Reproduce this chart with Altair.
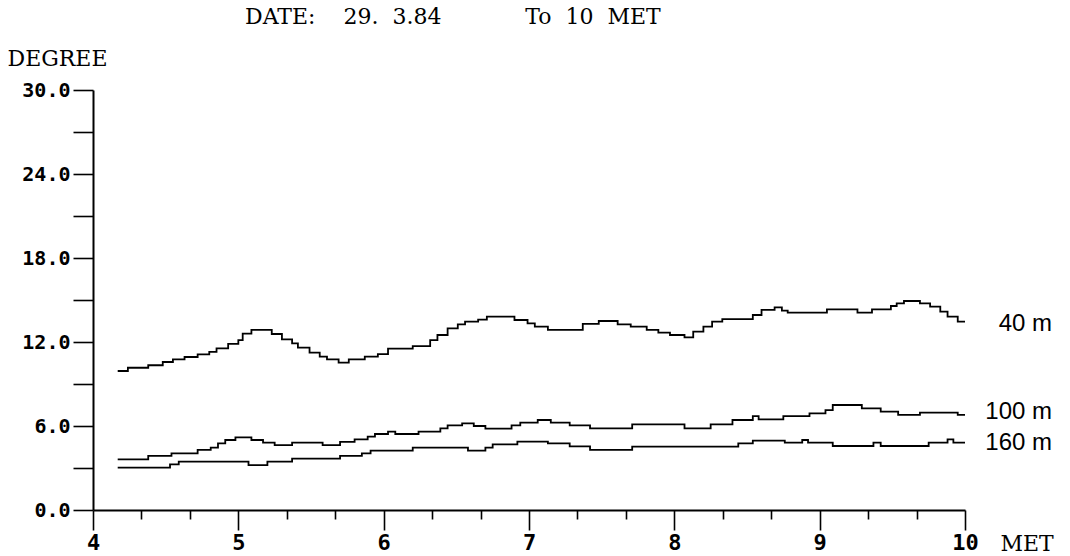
import altair as alt
import pandas as pd

# ---- data (time in hours MET, temperature in degrees) ----
t40 = [4.17, 4.24, 4.38, 4.48, 4.55, 4.63, 4.72, 4.80, 4.85, 4.93, 5.00, 5.03, 5.09,
       5.23, 5.30, 5.37, 5.41, 5.49, 5.56, 5.61, 5.69, 5.76, 5.87, 5.96, 6.03, 6.20,
       6.32, 6.37, 6.44, 6.51, 6.56, 6.65, 6.71, 6.90, 6.99, 7.04, 7.13, 7.37, 7.48,
       7.61, 7.70, 7.81, 7.89, 7.97, 8.07, 8.13, 8.20, 8.26, 8.33, 8.54, 8.60, 8.69,
       8.74, 8.78, 9.05, 9.26, 9.36, 9.49, 9.53, 9.58, 9.69, 9.76, 9.83, 9.88, 9.95,
       10.0]
v40 = [9.93, 10.16, 10.34, 10.57, 10.76, 10.93, 11.12, 11.30, 11.55, 11.86, 12.14, 12.60,
       12.86, 12.57, 12.19, 11.90, 11.60, 11.24, 10.95, 10.76, 10.52, 10.76, 10.95, 11.14,
       11.52, 11.71, 12.14, 12.50, 12.98, 13.26, 13.45, 13.60, 13.81, 13.57, 13.33, 13.10,
       12.86, 13.29, 13.50, 13.26, 13.10, 12.86, 12.67, 12.50, 12.33, 12.74, 13.10, 13.45,
       13.64, 13.93, 14.29, 14.48, 14.24, 14.10, 14.33, 14.10, 14.33, 14.57, 14.76, 14.93,
       14.76, 14.52, 14.17, 13.81, 13.45, 13.45]

t100 = [4.17, 4.38, 4.54, 4.72, 4.81, 4.86, 4.91, 4.98, 5.09, 5.17, 5.25, 5.37, 5.58,
        5.70, 5.80, 5.89, 5.94, 6.03, 6.08, 6.24, 6.39, 6.44, 6.54, 6.62, 6.70, 6.88,
        6.94, 7.06, 7.15, 7.28, 7.42, 7.71, 8.07, 8.25, 8.40, 8.54, 8.58, 8.75, 8.93,
        9.04, 9.09, 9.29, 9.42, 9.54, 9.69, 9.95, 10.0]
v100 = [3.62, 3.86, 4.05, 4.29, 4.45, 4.76, 5.00, 5.19, 5.00, 4.81, 4.64, 4.81, 4.64,
        4.86, 5.05, 5.24, 5.43, 5.60, 5.43, 5.60, 5.83, 6.05, 6.19, 6.00, 5.81, 6.05,
        6.24, 6.43, 6.24, 6.05, 5.83, 6.12, 5.83, 6.12, 6.43, 6.71, 6.48, 6.71, 6.90,
        7.14, 7.50, 7.26, 7.02, 6.79, 6.95, 6.79, 6.79]

t160 = [4.17, 4.53, 4.59, 5.07, 5.20, 5.37, 5.70, 5.85, 5.91, 6.20, 6.58, 6.70, 6.75,
        6.92, 7.13, 7.28, 7.42, 7.71, 8.44, 8.54, 8.76, 8.88, 8.92, 9.09, 9.37, 9.42,
        9.75, 9.88, 9.92, 10.0]
v160 = [3.02, 3.26, 3.45, 3.21, 3.45, 3.67, 3.86, 4.05, 4.24, 4.45, 4.24, 4.45, 4.69,
        4.88, 4.76, 4.55, 4.29, 4.52, 4.76, 4.95, 4.81, 5.00, 4.81, 4.57, 4.81, 4.57,
        4.81, 5.05, 4.81, 4.81]

series_names = ["40 m", "100 m", "160 m"]
label_t = [10.0, 10.0, 10.0]
label_v = [13.3, 7.0, 4.8]

x_tick_values = [4 + k / 6 for k in range(37)]
y_tick_values = [3 * k for k in range(11)]

NB = "\u00a0"
title_text = ("DATE:" + NB * 4 + "29." + NB * 2 + "3.84" + NB * 12
              + "To" + NB * 2 + "10" + NB * 2 + "MET")

# ---- tables ----
rows = []
for name, ts, vs in zip(series_names, [t40, t100, t160], [v40, v100, v160]):
    for t, v in zip(ts, vs):
        rows.append({"series": name, "t": t, "v": v})
df = pd.DataFrame(rows)
lab = pd.DataFrame({"series": series_names, "t": label_t, "v": label_v})

is_major = "abs(datum.value - round(datum.value)) < 0.01"

x_enc = alt.X(
    "t:Q",
    scale=alt.Scale(domain=[4, 10], nice=False, zero=False),
    axis=alt.Axis(
        values=x_tick_values,
        labelExpr=f"{is_major} ? format(round(datum.value), 'd') : ''",
        tickSize={"condition": {"test": is_major, "value": 20}, "value": 9},
        labelPadding=2,
        labelFont="DejaVu Sans Mono",
        labelFontSize=22,
        labelFontWeight="bold",
        labelColor="black",
        labelFlush=False,
        labelOverlap=False,
        labelBound=False,
        domainColor="black",
        domainWidth=2,
        tickColor="black",
        tickWidth=1.6,
        grid=False,
        title="MET",
        titleFont="DejaVu Serif",
        titleFontSize=22,
        titleFontWeight="normal",
        titleColor="black",
        titleAnchor="start",
        titleAlign="left",
        titleBaseline="alphabetic",
        titleX=907,
        titleY=40,
    ),
)

y_enc = alt.Y(
    "v:Q",
    scale=alt.Scale(domain=[0, 30], nice=False),
    axis=alt.Axis(
        values=y_tick_values,
        labelExpr="datum.value % 6 == 0 ? format(datum.value, '.1f') : ''",
        tickSize=20,
        labelPadding=3,
        labelFont="DejaVu Sans Mono",
        labelFontSize=20,
        labelFontWeight="bold",
        labelColor="black",
        labelFlush=False,
        labelOverlap=False,
        domainColor="black",
        domainWidth=2,
        tickColor="black",
        tickWidth=1.6,
        grid=False,
        title="DEGREE",
        titleFont="DejaVu Serif",
        titleFontSize=22,
        titleFontWeight="normal",
        titleColor="black",
        titleAngle=0,
        titleAlign="left",
        titleBaseline="alphabetic",
        titleX=-86,
        titleY=-25,
    ),
)

lines = alt.Chart(df).mark_line(
    interpolate="step-after", color="black", strokeWidth=1.8
).encode(x=x_enc, y=y_enc, detail="series:N")

labels = alt.Chart(lab).mark_text(
    align="right", baseline="middle", dx=87, font="Liberation Sans",
    fontSize=24, color="black"
).encode(x="t:Q", y="v:Q", text="series:N")

chart = alt.layer(lines, labels).properties(
    width=872,
    height=420,
    background="white",
    title=alt.TitleParams(
        text=title_text,
        anchor="start",
        frame="group",
        dx=152,
        offset=18,
        font="DejaVu Serif",
        fontSize=22,
        fontWeight="normal",
        color="black",
    ),
    autosize=alt.AutoSizeParams(type="none"),
    padding={"left": 93, "top": 90, "right": 105, "bottom": 46},
).configure_view(stroke=None)

chart.save("out.html", embed_options={"renderer": "svg", "actions": False})
